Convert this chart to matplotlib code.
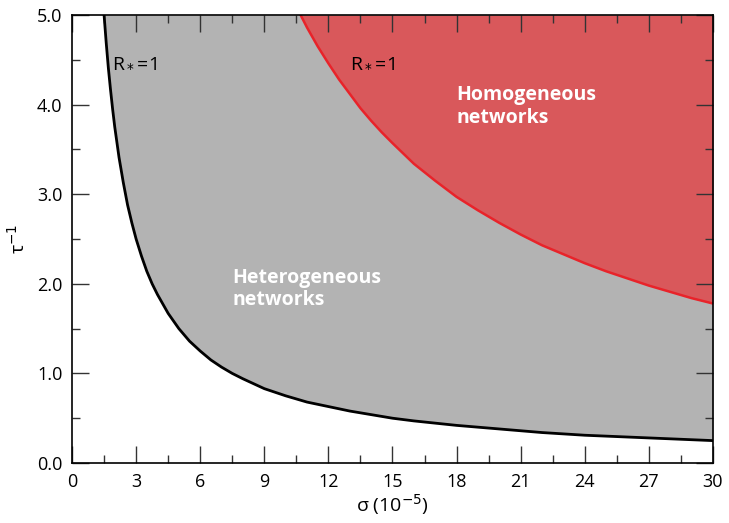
import matplotlib
matplotlib.use('Agg')
import matplotlib.pyplot as plt

plt.rcParams['font.family'] = ['Open Sans', 'DejaVu Sans']

# R*=1 boundary, heterogeneous networks (black curve)
sigma_het = [1.5, 1.6, 1.7, 1.8, 1.9, 2.0, 2.2, 2.4, 2.6, 2.8, 3.0, 3.25, 3.5,
             3.75, 4.0, 4.5, 5.0, 5.5, 6.0, 6.5, 7.0, 7.5, 8, 9, 10, 11, 12,
             13, 14, 15, 16, 18, 20, 22, 24, 26, 28, 30]
tau_het = [5.0, 4.69, 4.41, 4.17, 3.95, 3.75, 3.41, 3.13, 2.88, 2.68, 2.5,
           2.31, 2.14, 2.0, 1.88, 1.67, 1.5, 1.36, 1.25, 1.15, 1.07, 1.0,
           0.94, 0.83, 0.75, 0.68, 0.63, 0.58, 0.54, 0.5, 0.47, 0.42, 0.38,
           0.34, 0.31, 0.29, 0.27, 0.25]

# R*=1 boundary, homogeneous networks (red curve)
sigma_hom = [10.7, 11, 11.5, 12, 12.5, 13, 13.5, 14, 14.5, 15, 16, 17, 18, 19,
             20, 21, 22, 23, 24, 25, 26, 27, 28, 29, 30]
tau_hom = [5.0, 4.86, 4.65, 4.46, 4.28, 4.12, 3.96, 3.82, 3.69, 3.57, 3.34,
           3.15, 2.97, 2.82, 2.68, 2.55, 2.43, 2.33, 2.23, 2.14, 2.06, 1.98,
           1.91, 1.84, 1.78]

xticks = [0, 3, 6, 9, 12, 15, 18, 21, 24, 27, 30]
yticks = [0.0, 1.0, 2.0, 3.0, 4.0, 5.0]

fig = plt.figure(figsize=(7.29, 5.23), dpi=100)
ax = fig.add_axes([0.0988, 0.1147, 0.8792, 0.8566])

ax.fill_between(sigma_het, tau_het, 5.0, color='#b3b3b3', lw=0)
ax.fill_between(sigma_hom, tau_hom, 5.0, color='#d9585b', lw=0)
ax.plot(sigma_het, tau_het, color='black', lw=2, solid_joinstyle='round')
ax.plot(sigma_hom, tau_hom, color='#e8232a', lw=1.8, solid_joinstyle='round')

ax.set_xlim(0, 30)
ax.set_ylim(0, 5)
ax.set_xticks(xticks)
ax.set_xticklabels([str(t) for t in xticks])
ax.set_yticks(yticks)
ax.set_yticklabels([f"{t:.1f}" for t in yticks])
ax.set_xticks([x + 1.5 for x in xticks[:-1]], minor=True)
ax.set_yticks([y + 0.5 for y in yticks[:-1]], minor=True)
ax.tick_params(which='both', direction='in', top=True, right=True,
               labelsize=13, width=1, color='#333333')
ax.tick_params(which='major', length=12, pad=7)
ax.tick_params(which='minor', length=6)
for sp in ax.spines.values():
    sp.set_linewidth(1.2)

ax.set_xlabel(r'σ (10$^{-5}$)', fontsize=14, labelpad=1)
ax.set_ylabel(r'τ$^{-1}$', fontsize=14, labelpad=6)

ax.text(1.85, 4.47, r'R$_*$=1', fontsize=14, va='center')
ax.text(13.0, 4.47, r'R$_*$=1', fontsize=14, va='center')
ax.text(18.0, 3.98, 'Homogeneous\nnetworks', fontsize=14, fontweight='bold',
        color='white', va='center', linespacing=1.15)
ax.text(7.5, 1.94, 'Heterogeneous\nnetworks', fontsize=14, fontweight='bold',
        color='white', va='center', linespacing=1.15)

fig.savefig('out.png', dpi=100)
